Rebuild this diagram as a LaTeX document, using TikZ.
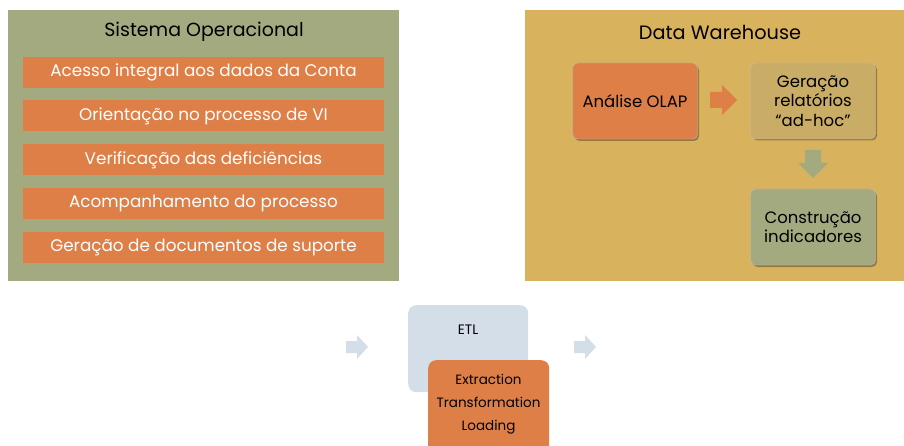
\documentclass[tikz,border=0pt]{standalone}
\usepackage{fontspec}
\setmainfont{Poppins}
\definecolor{olivegreen}{RGB}{164,170,128}
\definecolor{mustard}{RGB}{217,178,94}
\definecolor{orangebar}{RGB}{222,127,72}
\definecolor{tan}{RGB}{201,173,103}
\definecolor{paleblue}{RGB}{212,222,233}
\tikzset{
  panel/.style={draw=none,anchor=north west,inner sep=0},
  bar/.style={fill=orangebar,text=white,minimum width=361pt,minimum height=31pt,inner sep=0,font=\fontsize{16.8}{18}\selectfont},
  dwbox/.style={rounded corners=5pt,minimum width=125pt,minimum height=76pt,inner sep=0,align=center,
    font=\fontsize{16.5}{19.5}\selectfont,draw=black!25,line width=0.4pt},
  shadowbox/.style={fill=black,opacity=0.3,rounded corners=5pt},
}
\begin{document}
\begin{tikzpicture}[x=1pt,y=-1pt]
\useasboundingbox (0,0) rectangle (904,446);
% left panel
\node[panel,fill=olivegreen,minimum width=391pt,minimum height=271pt] (so) at (8,10) {};
\node[font=\fontsize{19}{22}\selectfont] (sotitle) at (204,32) {Sistema Operacional};
\node[bar] (b1) at (203.5,72.5) {Acesso integral aos dados da Conta};
\node[bar] (b2) at (203.5,116) {Orientação no processo de VI};
\node[bar] (b3) at (203.5,160) {Verificação das deficiências};
\node[bar] (b4) at (203.5,203.5) {Acompanhamento do processo};
\node[bar] (b5) at (203.5,247.5) {Geração de documentos de suporte};
% right panel
\node[panel,fill=mustard,minimum width=379pt,minimum height=271pt] (dw) at (525,10) {};
\node[font=\fontsize{19.3}{22}\selectfont] (dwtitle) at (720,32) {Data Warehouse};
\fill[shadowbox] (574.5,65) rectangle (699,141);
\fill[shadowbox] (752.5,64.5) rectangle (877,140.5);
\fill[shadowbox] (752.5,191) rectangle (877,267);
\node[dwbox,fill=orangebar] (olap) at (635,101) {Análise OLAP};
\node[dwbox,fill=tan] (rel) at (813,101) {Geração\\relatórios\\“ad-hoc”};
\node[dwbox,fill=olivegreen] (ind) at (813,227) {Construção\\indicadores};
% block arrows
\fill[orangebar] (710,92) -- (722,92) -- (722,85) -- (737,100) -- (722,115) -- (722,108) -- (710,108) -- cycle;
\fill[olivegreen] (805,150) -- (821,150) -- (821,163) -- (828,163) -- (813,178) -- (798,163) -- (805,163) -- cycle;
% ETL
\node[anchor=north west,fill=paleblue,rounded corners=8pt,minimum width=120pt,minimum height=87pt,inner sep=0] (etl) at (408,305) {};
\node[font=\fontsize{13.7}{15}\selectfont] (etltxt) at (468,330) {ETL};
\node[anchor=north west,fill=orangebar,rounded corners=8pt,minimum width=121pt,minimum height=96pt,inner sep=0] (etlin) at (428,360) {};
\node[align=center,font=\fontsize{13.5}{23}\selectfont] (etlsub) at (488.5,404.5) {Extraction\\Transformation\\Loading};
\fill[paleblue] (346,341) -- (357,341) -- (357,335) -- (368,347) -- (357,359) -- (357,353) -- (346,353) -- cycle;
\fill[paleblue] (574,341) -- (585,341) -- (585,335) -- (596,347) -- (585,359) -- (585,353) -- (574,353) -- cycle;
\end{tikzpicture}
\end{document}
